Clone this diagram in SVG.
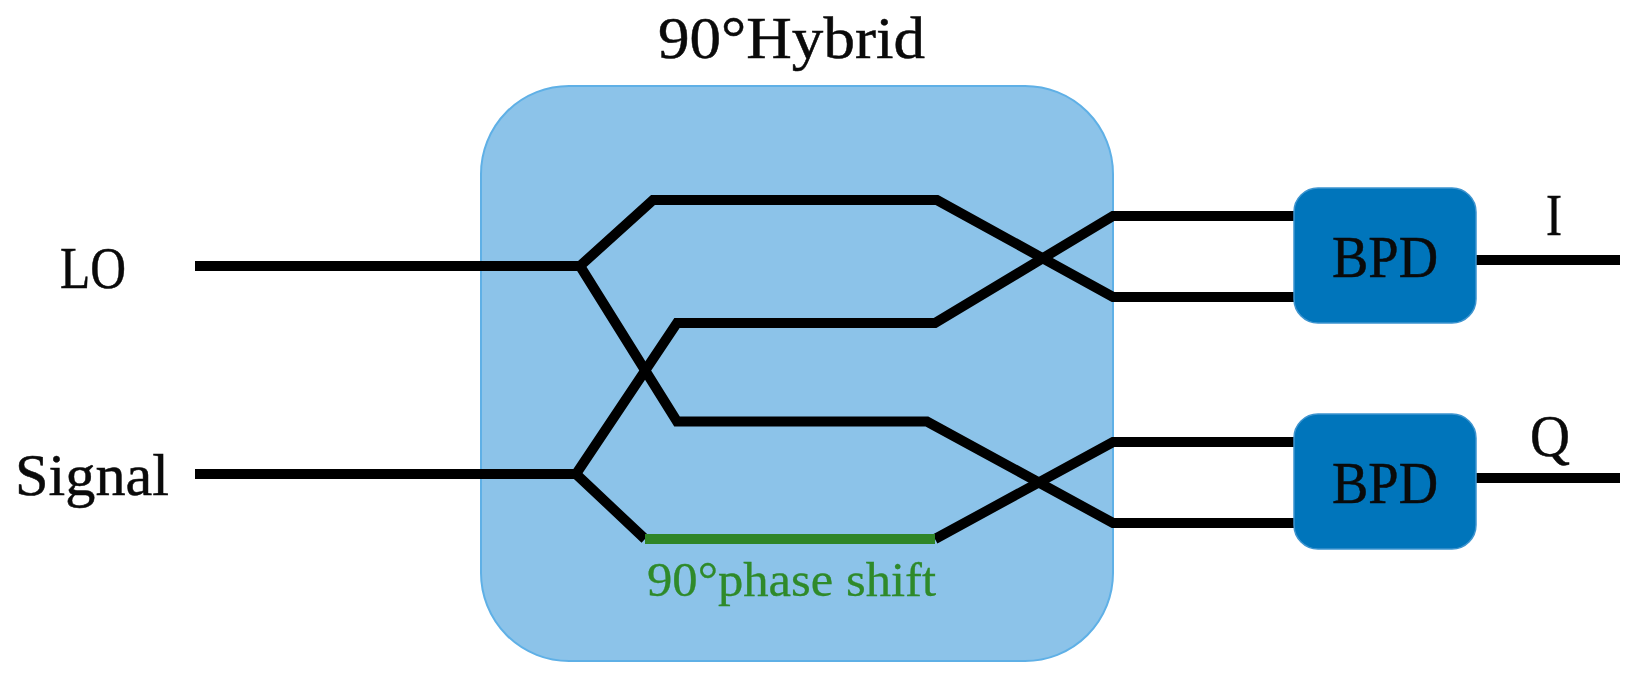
<svg xmlns="http://www.w3.org/2000/svg" width="1644" height="689" viewBox="0 0 1644 689">
<style>
text{font-family:"Liberation Serif","DejaVu Serif",serif;fill:#0a0a0a;stroke:#0a0a0a;stroke-width:.5}
.w{fill:none;stroke:#000;stroke-width:10;stroke-linejoin:miter;stroke-linecap:butt}
.bpd{fill:#0075bb;stroke:#3d94cf;stroke-width:1.5}
</style>
<rect width="1644" height="689" fill="#fff"/>
<g id="hybrid">
<rect x="481" y="86" width="632" height="575" rx="88" ry="88" fill="#8cc3e9" stroke="#5fb0e6" stroke-width="2"/>
<text x="658" y="58" font-size="60" textLength="267" lengthAdjust="spacingAndGlyphs">90°Hybrid</text>
<text x="647" y="596" font-size="48" textLength="289" lengthAdjust="spacingAndGlyphs" style="fill:#2f8a2a;stroke:#2f8a2a;stroke-width:.3">90°phase shift</text>
</g>
<g id="connectors">
<path class="w" d="M195 266H580L653 200H937L1113 297H1294"/>
<path class="w" d="M580 266L677 421.5H927L1113 523H1294"/>
<path class="w" d="M195 474H576L677 323H935L1113 216H1294"/>
<path class="w" d="M576 474L645 539M935 539L1113 442H1294"/>
<path d="M645 539H935" fill="none" stroke="#2f8527" stroke-width="10"/>
<path class="w" d="M1476 260H1620M1476 478H1620"/>
</g>
<g id="lo"><text x="60" y="288" font-size="60" textLength="66" lengthAdjust="spacingAndGlyphs">LO</text></g>
<g id="signal"><text x="15" y="495" font-size="60" textLength="154" lengthAdjust="spacingAndGlyphs">Signal</text></g>
<g id="bpd1">
<rect class="bpd" x="1294" y="188" width="182" height="135" rx="24" ry="24"/>
<text x="1332" y="277" font-size="59" textLength="106" lengthAdjust="spacingAndGlyphs">BPD</text>
</g>
<g id="bpd2">
<rect class="bpd" x="1294" y="414" width="182" height="135" rx="24" ry="24"/>
<text x="1332" y="503" font-size="59" textLength="106" lengthAdjust="spacingAndGlyphs">BPD</text>
</g>
<g id="i"><text x="1546" y="235" font-size="60" textLength="16" lengthAdjust="spacingAndGlyphs">I</text></g>
<g id="q"><text x="1530" y="456" font-size="60" textLength="40" lengthAdjust="spacingAndGlyphs">Q</text></g>
</svg>
